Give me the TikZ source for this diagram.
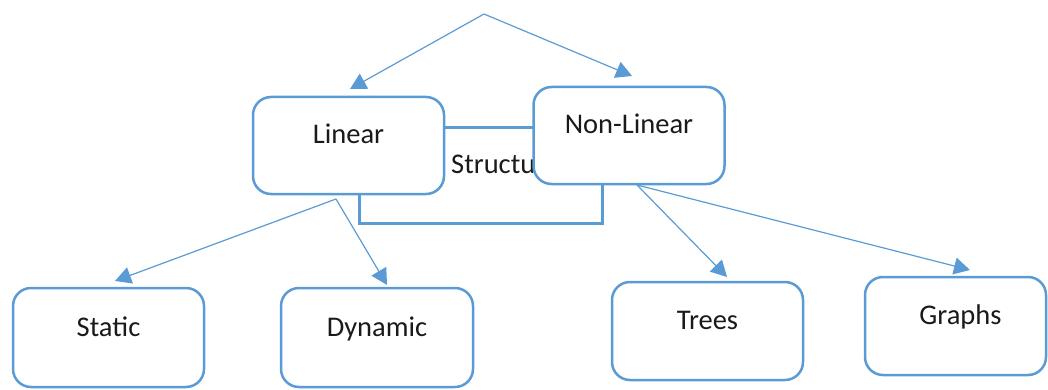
\documentclass[tikz,border=0pt]{standalone}
\usepackage{fontspec}
\setmainfont{Carlito}
\usetikzlibrary{arrows.meta}
\definecolor{boxblue}{HTML}{5B9BD5}
\definecolor{ink}{HTML}{1A1A1A}
\begin{document}
\begin{tikzpicture}[x=1pt,y=-1pt,
  label font/.style={font=\fontsize{28.5}{34}\selectfont, text=ink},
  box/.style={draw=boxblue, line width=2.5pt, rounded corners=18pt, fill=white,
    minimum width=191pt, minimum height=97pt, inner sep=0pt,
    text height=20pt, text depth=23pt, label font},
  link/.style={draw=boxblue, line width=1.2pt, -{Triangle[length=16pt,width=17pt]}},
  frame/.style={draw=boxblue, line width=3pt, minimum width=243pt, minimum height=95pt, inner sep=0pt}]
\useasboundingbox (0,0) rectangle (1048,390);

% background frame with its partly hidden label
\node[frame] (structure) at (480.5,175.5) {};
\node[label font, anchor=base west, inner sep=0pt] (structtext) at (451,173) {Structure};

% category boxes
\node[box] (linear) at (348.5,145.5) {Linear};
\node[box] (nonlinear) at (629,135.5) {Non-Linear};
\node[box, minimum height=99pt] (static) at (108.5,337.5) {Static};
\node[box, minimum height=99pt, minimum width=192pt] (dynamic) at (377,337.5) {Dynamic};
\node[box, minimum height=98pt] (trees) at (707.5,331) {Trees};
\node[box, minimum height=98pt, minimum width=181pt] (graphs) at (955.5,326) {\hspace*{10pt}Graphs};

% connector end points
\coordinate (root) at (484,14);
\coordinate (linIn) at (350,89);
\coordinate (nlIn) at (632,76);
\coordinate (linOut) at (336,199);
\coordinate (nlOut) at (637,185);
\coordinate (stIn) at (115,281);
\coordinate (dyIn) at (387,285);
\coordinate (trIn) at (727,277);
\coordinate (grIn) at (970,270);

\draw[link] (root) -- (linIn);
\draw[link] (root) -- (nlIn);
\draw[link] (linOut) -- (stIn);
\draw[link] (linOut) -- (dyIn);
\draw[link] (nlOut) -- (trIn);
\draw[link] (nlOut) -- (grIn);
\end{tikzpicture}
\end{document}
